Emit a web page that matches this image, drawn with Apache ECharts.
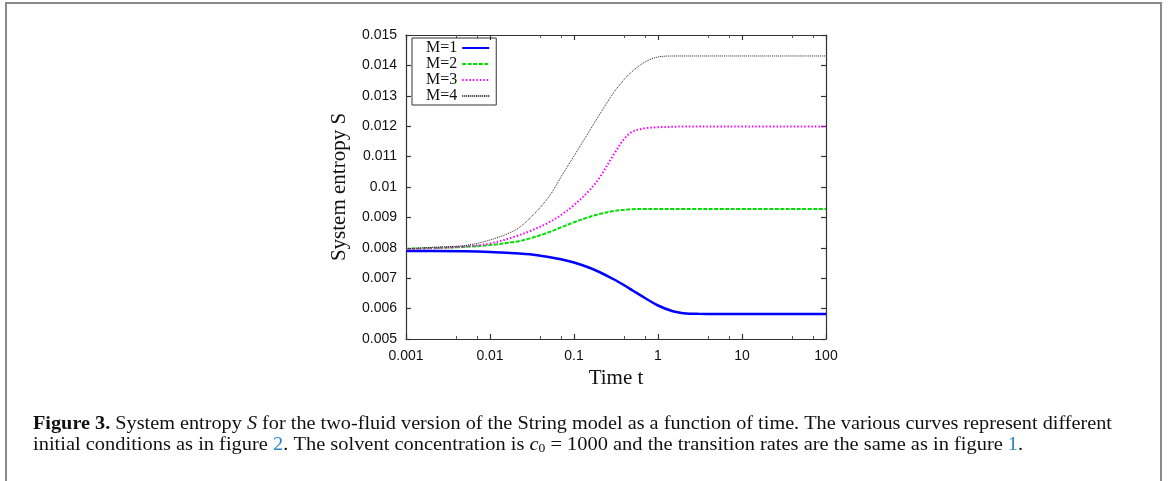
<!DOCTYPE html>
<html>
<head>
<meta charset="utf-8">
<script src="https://cdn.jsdelivr.net/npm/echarts@6/dist/echarts.min.js"></script>
<style>
  html, body { margin: 0; padding: 0; background: #fff; }
  #chart { width: 1168px; height: 481px; }
</style>
</head>
<body>
<div id="chart"></div>
<script>
// time values (log axis) and entropy
var times = [0.001, 0.002, 0.005, 0.01, 0.02, 0.03, 0.05, 0.07, 0.1, 0.15, 0.2, 0.3, 0.4, 0.5, 0.7, 1, 1.5, 2, 3, 5, 10, 20, 50, 100];
var sM1 = [0.007895, 0.007895, 0.007885, 0.007862, 0.007819, 0.007786, 0.007697, 0.007622, 0.007516, 0.007352, 0.007204, 0.006957, 0.00676, 0.006595, 0.006349, 0.006102, 0.005911, 0.005849, 0.005828, 0.005826, 0.005826, 0.005826, 0.005826, 0.005826];
var sM2 = [0.00797, 0.00799, 0.00803, 0.00809, 0.00820, 0.00831, 0.00851, 0.00867, 0.00884, 0.00901, 0.00911, 0.00921, 0.00925, 0.00927, 0.00928, 0.00928, 0.00928, 0.00928, 0.00928, 0.00928, 0.00928, 0.00928, 0.00928, 0.00928];
var sM3 = [0.007951, 0.007984, 0.008043, 0.008141, 0.008372, 0.008553, 0.008829, 0.009079, 0.009408, 0.009868, 0.010296, 0.011086, 0.011595, 0.011826, 0.011931, 0.011967, 0.01198, 0.01199, 0.01199, 0.01199, 0.01199, 0.01199, 0.01199, 0.01199];
var sM4 = [0.00797, 0.008016, 0.008076, 0.008257, 0.008586, 0.00898, 0.009671, 0.010329, 0.01102, 0.011809, 0.012368, 0.013125, 0.013553, 0.013816, 0.014112, 0.014276, 0.014309, 0.01431, 0.01431, 0.01431, 0.01431, 0.01431, 0.01431, 0.01431];
var seriesNames = ["M=1", "M=2", "M=3", "M=4"];

function pairs(ys) {
	var out = [];
	for (var i = 0; i < times.length; i++) {
		out.push([times[i], ys[i]]);
	}
	return out;
}

var voChart = echarts.init(document.getElementById("chart"));

var axisLineStyle = { color: "#333", width: 1.2 };
var sansLabel = { fontFamily: "Liberation Sans", fontSize: 14, color: "#111" };
var serif = "Liberation Serif";

function fmtY(v) {
	return String(parseFloat(v.toFixed(3)));
}

var voOption = {
	animation: false,
	backgroundColor: "#fff",
	grid: { left: 406, top: 35, width: 420, height: 304, containLabel: false },
	legend: {
		orient: "vertical",
		left: 412,
		top: 38,
		align: "right",
		itemWidth: 27,
		itemHeight: 10,
		itemGap: 0,
		padding: [2, 6, 1, 14],
		borderColor: "#333",
		borderWidth: 1,
		itemStyle: { opacity: 0 },
		textStyle: { fontFamily: serif, fontSize: 16, color: "#111", lineHeight: 16 },
		data: seriesNames
	},
	xAxis: [{
		type: "log",
		logBase: 10,
		min: 0.001,
		max: 100,
		name: "Time t",
		nameLocation: "middle",
		nameGap: 29,
		nameTextStyle: { fontFamily: serif, fontSize: 21, color: "#111" },
		axisLine: { lineStyle: axisLineStyle },
		axisTick: { inside: true, length: 5, lineStyle: axisLineStyle },
		minorTick: { show: true, splitNumber: 3, length: 3, lineStyle: { color: "#555" } },
		axisLabel: Object.assign({ margin: 10, formatter: function(v) { return String(v); } }, sansLabel),
		splitLine: { show: false }
	}, {
		type: "log",
		logBase: 10,
		min: 0.001,
		max: 100,
		position: "top",
		axisLine: { lineStyle: axisLineStyle },
		axisTick: { inside: true, length: 5, lineStyle: axisLineStyle },
		minorTick: { show: true, splitNumber: 3, length: 3, lineStyle: { color: "#555" } },
		axisLabel: { show: false },
		splitLine: { show: false }
	}],
	yAxis: [{
		type: "value",
		min: 0.005,
		max: 0.015,
		interval: 0.001,
		name: "System entropy S",
		nameLocation: "middle",
		nameGap: 56,
		nameTextStyle: { fontFamily: serif, fontSize: 21, color: "#111" },
		axisLine: { show: true, lineStyle: axisLineStyle },
		axisTick: { show: true, inside: true, length: 5, lineStyle: axisLineStyle },
		axisLabel: Object.assign({ margin: 9, formatter: fmtY }, sansLabel),
		splitLine: { show: false }
	}, {
		type: "value",
		min: 0.005,
		max: 0.015,
		interval: 0.001,
		position: "right",
		axisLine: { show: true, lineStyle: axisLineStyle },
		axisTick: { show: true, inside: true, length: 5, lineStyle: axisLineStyle },
		axisLabel: { show: false },
		splitLine: { show: false }
	}],
	series: [{
		name: "M=1", type: "line", data: pairs(sM1), smooth: 0.35,
		showSymbol: false, symbol: "none",
		lineStyle: { color: "#0000ff", width: 2.5, type: "solid" },
		itemStyle: { color: "#0000ff" }
	}, {
		name: "M=2", type: "line", data: pairs(sM2), smooth: 0.35,
		showSymbol: false, symbol: "none",
		lineStyle: { color: "#00e000", width: 2, type: [4, 1.5] },
		itemStyle: { color: "#00e000" }
	}, {
		name: "M=3", type: "line", data: pairs(sM3), smooth: 0.35,
		showSymbol: false, symbol: "none",
		lineStyle: { color: "#ff00ff", width: 2, type: [1.5, 2] },
		itemStyle: { color: "#ff00ff" }
	}, {
		name: "M=4", type: "line", data: pairs(sM4), smooth: 0.35,
		showSymbol: false, symbol: "none",
		lineStyle: { color: "#222", width: 1, type: [1, 1] },
		itemStyle: { color: "#222" }
	}],
	graphic: [{
		type: "rect",
		shape: { x: 6, y: 3, width: 1155, height: 490 },
		style: { fill: "none", stroke: "#8a8a8a", lineWidth: 2 },
		silent: true
	}, {
		type: "text",
		x: 33,
		y: 415,
		scaleX: 1.125,
		style: {
			text: "{b|Figure 3.} System entropy {i|S} for the two-fluid version of the String model as a function of time. The various curves represent different",
			font: "18px " + serif,
			fill: "#111",
			rich: {
				b: { fontFamily: serif, fontSize: 18, fontWeight: "bold", fill: "#111" },
				i: { fontFamily: serif, fontSize: 18, fontStyle: "italic", fill: "#111" }
			}
		}
	}, {
		type: "text",
		x: 33,
		y: 436,
		scaleX: 1.135,
		style: {
			text: "initial conditions as in figure {l|2}. The solvent concentration is {i|c}{s|0} = 1000 and the transition rates are the same as in figure {l|1}.",
			font: "18px " + serif,
			fill: "#111",
			rich: {
				l: { fontFamily: serif, fontSize: 18, fill: "#2a86c4" },
				i: { fontFamily: serif, fontSize: 18, fontStyle: "italic", fill: "#111" },
				s: { fontFamily: serif, fontSize: 12, fill: "#111", padding: [7, 0, 0, 0] }
			}
		}
	}]
};

voChart.setOption(voOption);

window.addEventListener("resize", function() {
	voChart.resize();
});
</script>
</body>
</html>
